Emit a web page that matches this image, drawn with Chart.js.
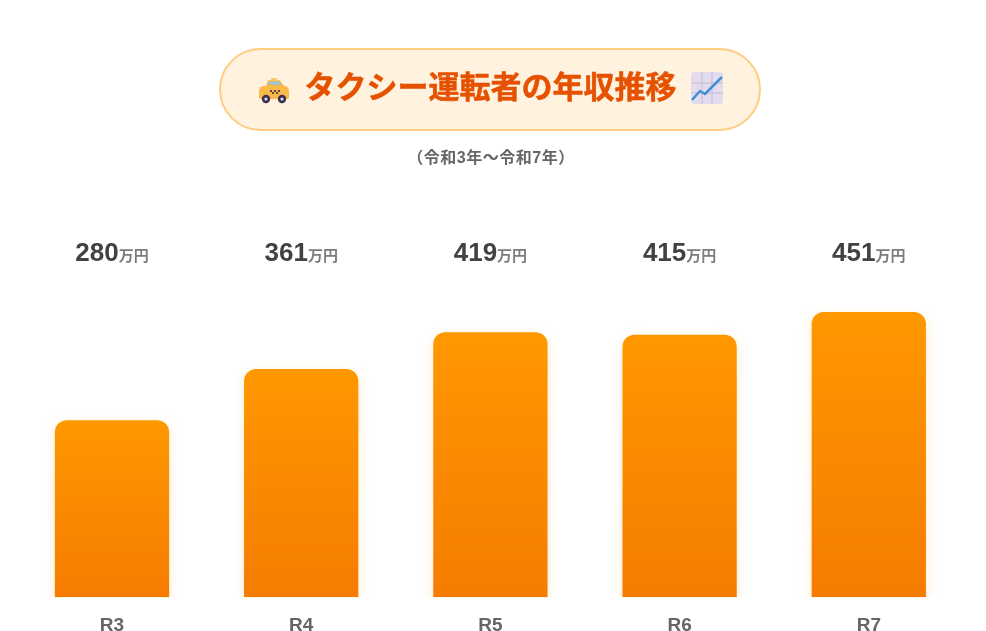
<!DOCTYPE html>
<html lang="ja"><head><meta charset="utf-8">
<script src="https://cdn.jsdelivr.net/npm/chart.js@4"></script>
<style>
html,body{margin:0;padding:0;background:#fff;width:986px;height:631px;overflow:hidden}
body{position:relative;font-family:"Liberation Sans","Noto Sans CJK JP",sans-serif}
#pill{position:absolute;left:219px;top:48px;width:538px;height:79px;border:2px solid #ffcc80;border-radius:42px;background:#fff3e0}
#title{position:absolute;left:0;width:981px;top:67px;line-height:42px;text-align:center;font-size:31px;font-weight:700;color:#e65100;white-space:nowrap;-webkit-text-stroke:0.5px #e65100}
#sub{position:absolute;left:0;width:982px;top:148px;text-align:center;font-size:16px;letter-spacing:.5px;font-weight:700;color:#666;line-height:20px}
#wrap{position:absolute;left:0;top:0;width:986px;height:646px}
svg{position:absolute}
</style></head><body>
<div id="wrap"><canvas id="c" width="986" height="646"></canvas></div>
<div id="pill"></div>
<svg role="img" aria-label="🚕" style="left:258px;top:78px" width="32" height="26" viewBox="0 0 32 26">
  <path d="M9 7 L11 3 H21 L25 8 Z" fill="#8fc7e8" stroke="#f6b13e" stroke-width="1.5"/>
  <rect x="13" y="0" width="6" height="3" rx="1" fill="#f7c95c"/>
  <path d="M1 13 Q1 8 6 8 H27 Q31 8 31 14 V19 Q31 21 29 21 H3 Q1 21 1 19 Z" fill="#f9b94b"/>
  <path d="M12 12h2v2h-2zM16 12h2v2h-2zM20 12h2v2h-2zM14 14h2v2h-2zM18 14h2v2h-2z" fill="#5a4a42"/>
  <circle cx="8" cy="21" r="4.2" fill="#3d2f4f"/><circle cx="8" cy="21" r="1.6" fill="#e6e0ec"/>
  <circle cx="24" cy="21" r="4.2" fill="#3d2f4f"/><circle cx="24" cy="21" r="1.6" fill="#e6e0ec"/>
</svg>
<div id="title">タクシー運転者の年収推移</div>
<svg role="img" aria-label="📈" style="left:691px;top:72px" width="32" height="32" viewBox="0 0 32 32">
  <rect width="32" height="32" rx="3" fill="#e3dcef"/>
  <path d="M0 11H32M0 21H32M11 0V32M21 0V32" stroke="#c5bad8" stroke-width="1"/>
  <path d="M1 28 L9 19 L14 22 L31 5" fill="none" stroke="#3f8fd6" stroke-width="2.5"/>
</svg>
<div id="sub">（令和3年～令和7年）</div>
<script>
const categories = ["R3","R4","R5","R6","R7"];
const incomes = [280,361,419,415,451];
const unit = "万円";
const numFont = 'bold 26px "Liberation Sans","Noto Sans CJK JP"';
const unitFont = 'bold 15px "Liberation Sans","Noto Sans CJK JP"';
const labelRow = {
  id:"labelRow",
  afterDatasetsDraw(chart){
    const {ctx,scales:{x}} = chart;
    ctx.save();
    ctx.textBaseline="alphabetic";
    incomes.forEach((v,i)=>{
      const num=String(v);
      ctx.font=numFont;
      const w1=ctx.measureText(num).width;
      ctx.font=unitFont;
      const w2=ctx.measureText(unit).width;
      const left=x.getPixelForValue(i)-(w1+w2)/2;
      ctx.textAlign="left";
      ctx.font=numFont;
      ctx.fillStyle="#424242";
      ctx.fillText(num,left,261);
      ctx.font=unitFont;
      ctx.fillStyle="#7c7c7c";
      ctx.fillText(unit,left+w1,261);
    });
    ctx.restore();
  }
};
const barShadow = {
  id:"barShadow",
  beforeDatasetDraw(chart){const c=chart.ctx;c.save();c.shadowColor="rgba(255,152,0,0.2)";c.shadowBlur=12;c.shadowOffsetY=4;},
  afterDatasetDraw(chart){chart.ctx.restore();}
};
new Chart(document.getElementById("c"),{
  type:"bar",
  data:{labels:categories,datasets:[{
    data:incomes,
    backgroundColor(ctx){
      const a=ctx.chart.chartArea; if(!a) return "#ff9800";
      const top=ctx.chart.scales.y.getPixelForValue(ctx.raw);
      const g=ctx.chart.ctx.createLinearGradient(0,top,0,a.bottom);
      g.addColorStop(0,"#ff9800");g.addColorStop(1,"#f57c00");
      return g;
    },
    borderRadius:{topLeft:12,topRight:12,bottomLeft:0,bottomRight:0},
    borderSkipped:"bottom",
    borderWidth:0,
    categoryPercentage:1,
    barPercentage:0.604
  }]},
  options:{
    responsive:false,animation:false,
    layout:{padding:{left:17.4,right:22.6,top:281,bottom:0}},
    plugins:{legend:{display:false},tooltip:{enabled:false},title:{display:false}},
    scales:{
      y:{display:false,min:0,max:500},
      x:{grid:{display:false},border:{display:false},
         ticks:{color:"#666",padding:9,font:{family:'"Liberation Sans"',size:19,weight:"bold"}}}
    }
  },
  plugins:[barShadow,labelRow]
});
</script>
</body></html>
